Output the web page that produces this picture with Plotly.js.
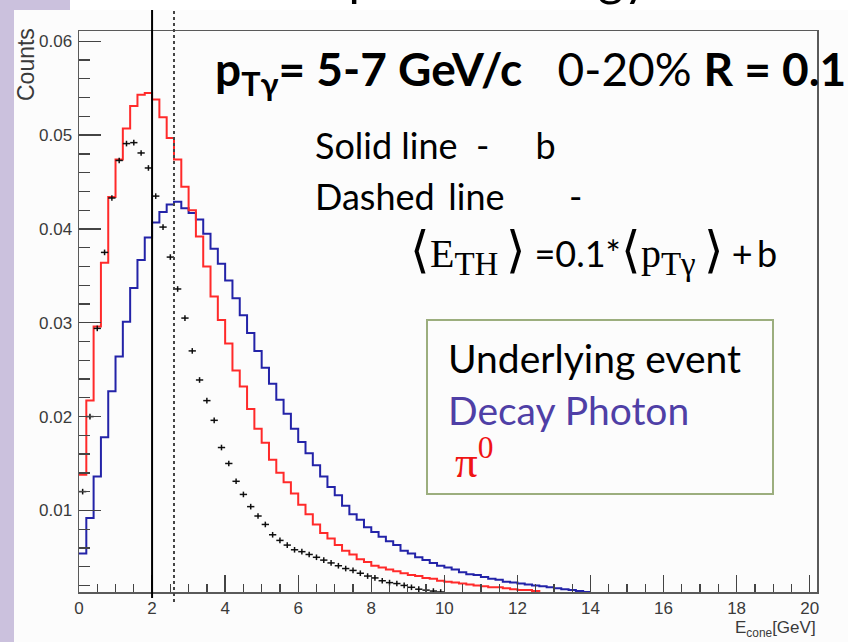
<!DOCTYPE html>
<html>
<head>
<meta charset="utf-8">
<script src="https://cdn.plot.ly/plotly-3.0.1.min.js"></script>
<style>html,body{margin:0;padding:0;background:#fff;}#chart{width:848px;height:642px;}</style>
</head>
<body>
<div id="chart"></div>
<script>
// ---- data (histograms binned 0.2 GeV, starting at 0) ----
const binWidth = 0.2;
const pi0Counts = [0.0138,0.0217,0.0296,0.0364,0.0434,0.0474,0.0507,0.0531,0.0543,0.0545,
  0.0538,0.0519,0.0497,0.0474,0.0445,0.0420,0.0392,0.0360,0.0328,0.0303,
  0.0278,0.0249,0.0232,0.0208,0.0187,0.0172,0.0154,0.0140,0.0130,0.0118,
  0.0106,0.0096,0.0085,0.0076,0.0070,0.0063,0.0057,0.0053,0.0048,0.0045,
  0.0041,0.0039,0.0037,0.0035,0.0033,0.0031,0.0030,0.0028,0.0027,0.0025,
  0.0024,0.0023,0.0022,0.0021,0.0020,0.0019,0.0018,0.0018,0.0017,0.0016,
  0.0015,0.0015,0.0014,0.0012,0.0011];
const decayCounts = [0.0054,0.0092,0.0136,0.0178,0.0227,0.0264,0.0301,0.0337,0.0367,0.0391,
  0.0407,0.0418,0.0426,0.0429,0.0422,0.0417,0.0410,0.0395,0.0379,0.0363,
  0.0345,0.0326,0.0308,0.0289,0.0270,0.0252,0.0235,0.0218,0.0203,0.0187,
  0.0173,0.0161,0.0148,0.0136,0.0125,0.0116,0.0105,0.0096,0.0090,0.0082,
  0.0077,0.0072,0.0067,0.0063,0.0057,0.0054,0.0050,0.0047,0.0044,0.0041,
  0.0039,0.0037,0.0034,0.0032,0.0031,0.0029,0.0027,0.0026,0.0024,0.0023,
  0.0022,0.0021,0.0020,0.0019,0.0018,0.0017,0.0016,0.0015,0.0014,0.0013];
const ueCounts = [0.0120,0.0200,0.0294,0.0375,0.0433,0.0473,0.0491,0.0492,0.0481,0.0465,
  0.0435,0.0402,0.0370,0.0336,0.0305,0.0270,0.0239,0.0217,0.0196,0.0167,
  0.0150,0.0131,0.0117,0.0104,0.0094,0.0085,0.0074,0.0068,0.0063,0.0058,
  0.0056,0.0053,0.0050,0.0047,0.0044,0.0041,0.0038,0.0036,0.0033,0.0030,
  0.0028,0.0025,0.0023,0.0022,0.0020,0.0018,0.0016,0.0015,0.0014,0.0013];
const ueError = 0.0003;
const cutSolid = 2.0;   // solid line: b
const cutDashed = 2.6;  // dashed line: 0.1*<pT>+b
const yTickLabels = ["0.01","0.02","0.03","0.04","0.05","0.06"];
const yTickVals = [0.01,0.02,0.03,0.04,0.05,0.06];

function stepXY(vals){
  const x=[], y=[];
  for(let i=0;i<vals.length;i++){ x.push(+(i*binWidth).toFixed(3)); y.push(vals[i]); }
  x.push(+(vals.length*binWidth).toFixed(3)); y.push(vals[vals.length-1]);
  return {x,y};
}
const red = stepXY(pi0Counts), blue = stepXY(decayCounts);
const ueX = ueCounts.map((v,i)=>+((i+0.5)*binWidth).toFixed(3));

const traces = [
  {x: blue.x, y: blue.y, mode:'lines', line:{shape:'hv', color:'#2323a8', width:2}, hoverinfo:'skip'},
  {x: red.x, y: red.y, mode:'lines', line:{shape:'hv', color:'#ff2a2a', width:2}, hoverinfo:'skip'},
  {x: ueX, y: ueCounts, mode:'markers', marker:{size:1, color:'#000'},
   error_x:{type:'constant', value:binWidth/2, width:0, thickness:1.5, color:'#111'},
   error_y:{type:'constant', value:ueError, width:0, thickness:1.5, color:'#111'}, hoverinfo:'skip'}
];

// pixel -> paper helpers (margins l=79, r=31, t=31, b=50)
const L=79, T=31, W=738, H=561;
const px = v => (v-L)/W;
const py = v => (T+H-v)/H;

const slideFont = 'Lato, "Open Sans", sans-serif';
const serif = '"Liberation Serif", "DejaVu Serif", serif';
const sp = n => '\u00A0'.repeat(n);
const th = '\u2009';
const sSpan = (s, size) => '<span style="font-family:Liberation Serif;font-size:' + size + 'px">' + s + '</span>';
const subBig = s => '<sub><span style="font-family:Liberation Serif;font-size:33px">' + s + '</span></sub>';
const formula = sSpan('⟨', 50) + sSpan('E', 40) + subBig('TH') + sSpan(th, 40) + sSpan('⟩', 50) + sSpan(th, 40) + '=0.1*' +
                sSpan('⟨', 50) + sSpan('p', 40) + subBig('Tγ') + sSpan(th, 40) + sSpan('⟩', 50) + sSpan(th, 40) + '+' + th + 'b';

const layout = {
  width:848, height:642,
  margin:{l:L, r:31, t:T, b:50, pad:0},
  paper_bgcolor:'#ffffff', plot_bgcolor:'#fdfdfd',
  showlegend:false,
  xaxis:{range:[0,20.2], showgrid:false, zeroline:false, showline:true, mirror:true,
    linecolor:'#5a5a5a', linewidth:1.5, ticks:'inside', ticklen:17, tickwidth:1.3, tickcolor:'#444',
    tick0:0, dtick:2, ticklabelstandoff:0,
    minor:{ticks:'inside', ticklen:8, dtick:0.5, tickwidth:1.3, tickcolor:'#444', showgrid:false},
    tickfont:{family:'"Liberation Sans", Arial, sans-serif', size:17, color:'#3a3a3a'}},
  yaxis:{range:[0.0013,0.0611], showgrid:false, zeroline:false, showline:true, mirror:true,
    linecolor:'#5a5a5a', linewidth:1.5, ticks:'inside', ticklen:22, tickwidth:1.3, tickcolor:'#444',
    tickmode:'array', tickvals:yTickVals, ticktext:yTickLabels, ticklabelstandoff:2,
    minor:{ticks:'inside', ticklen:11, dtick:0.002, tick0:0, tickwidth:1.3, tickcolor:'#444', showgrid:false},
    tickfont:{family:'"Liberation Sans", Arial, sans-serif', size:17, color:'#3a3a3a'}},
  shapes:[
    {type:'rect', xref:'paper', yref:'paper', x0:px(14), x1:px(848), y0:py(642), y1:py(10), fillcolor:'#fcfcfc', line:{width:0}, layer:'below'},
    {type:'rect', xref:'paper', yref:'paper', x0:px(0), x1:px(14), y0:py(642), y1:py(0), fillcolor:'#cbc1dd', line:{width:0}},
    {type:'rect', xref:'paper', yref:'paper', x0:px(0), x1:px(70), y0:py(10), y1:py(0), fillcolor:'#cbc1dd', line:{width:0}},
    {type:'line', xref:'x', yref:'paper', x0:cutSolid, x1:cutSolid, y0:py(598), y1:py(10), line:{color:'#000', width:2}},
    {type:'line', xref:'x', yref:'paper', x0:cutDashed, x1:cutDashed, y0:py(602), y1:py(10), line:{color:'#444', width:2, dash:'dot'}},
    {type:'rect', xref:'paper', yref:'paper', x0:px(427), x1:px(773), y0:py(494), y1:py(320), line:{color:'#9cae7e', width:2}, fillcolor:'rgba(0,0,0,0)'}
  ],
  annotations:[
    {xref:'paper', yref:'paper', x:px(651), y:py(-23), xanchor:'right', yanchor:'middle', showarrow:false,
     text:'Isolation cut: pT and energy', font:{family:slideFont, size:49, color:'#000'}},
    {xref:'paper', yref:'paper', x:px(213), y:py(72), xanchor:'left', yanchor:'middle', showarrow:false,
     text:'<b>p<sub>Tγ</sub>= 5-7 GeV/c</b>' + sp(3) + '0-20% <b>R = 0.1</b>', font:{family:slideFont, size:46, color:'#000'}},
    {xref:'paper', yref:'paper', x:px(313), y:py(145), xanchor:'left', yanchor:'middle', showarrow:false,
     text:'Solid line' + sp(2) + '-' + sp(5) + 'b', font:{family:slideFont, size:36, color:'#000'}},
    {xref:'paper', yref:'paper', x:px(313), y:py(196), xanchor:'left', yanchor:'middle', showarrow:false,
     text:'Dashed' + th + ' line' + sp(7) + '-', font:{family:slideFont, size:36, color:'#000'}},
    {xref:'paper', yref:'paper', x:px(408), y:py(252), xanchor:'left', yanchor:'middle', showarrow:false,
     text: formula, font:{family:slideFont, size:36, color:'#000'}},
    {xref:'paper', yref:'paper', x:px(446), y:py(358), xanchor:'left', yanchor:'middle', showarrow:false,
     text:'Underlying event', font:{family:slideFont, size:39, color:'#000'}},
    {xref:'paper', yref:'paper', x:px(446), y:py(410), xanchor:'left', yanchor:'middle', showarrow:false,
     text:'Decay Photon', font:{family:slideFont, size:39, color:'#4f3fa6'}},
    {xref:'paper', yref:'paper', x:px(453), y:py(458), xanchor:'left', yanchor:'middle', showarrow:false,
     text:'π<sup>0</sup>', font:{family:serif, size:45, color:'#f01414'}},
    {xref:'paper', yref:'paper', x:px(26), y:py(65), xanchor:'center', yanchor:'middle', showarrow:false, textangle:-90,
     text:'Counts', font:{family:'"Liberation Sans", Arial, sans-serif', size:23, color:'#3a3a3a'}},
    {xref:'paper', yref:'paper', x:px(818), y:py(629), xanchor:'right', yanchor:'middle', showarrow:false,
     text:'E<sub>cone</sub>[GeV]', font:{family:'"Liberation Sans", Arial, sans-serif', size:17, color:'#3a3a3a'}}
  ]
};

Plotly.newPlot('chart', traces, layout, {displayModeBar:false, staticPlot:true});
</script>
</body>
</html>
